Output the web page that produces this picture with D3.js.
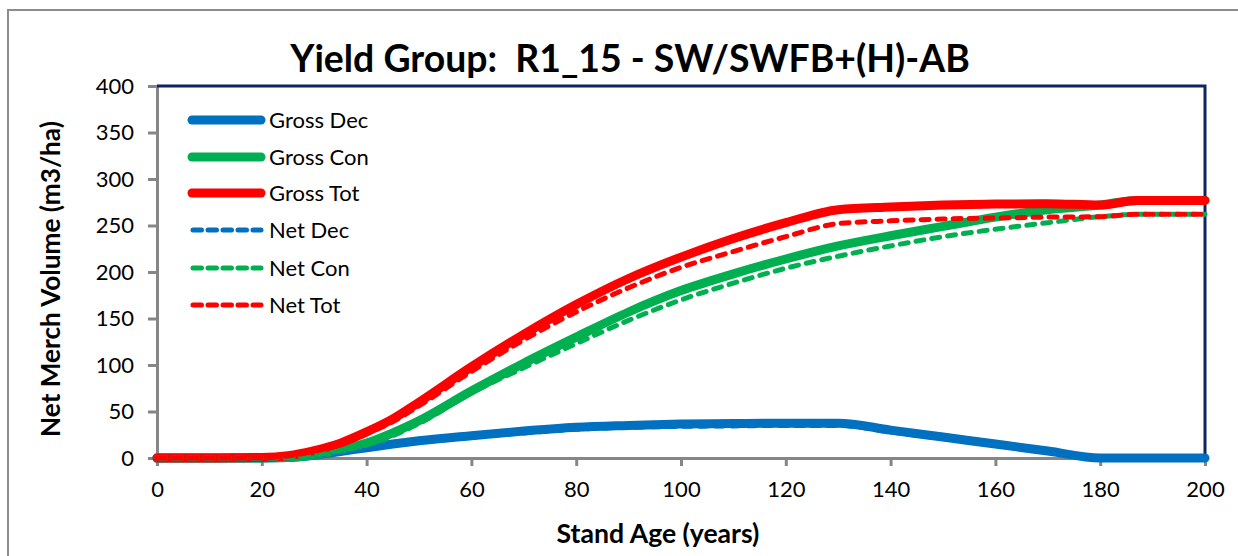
<!DOCTYPE html>
<html><head><meta charset="utf-8">
<script src="https://cdn.jsdelivr.net/npm/d3@7"></script>
<style>body{margin:0;background:#fff}svg{display:block}</style>
</head><body><svg id="c" width="1238" height="556"></svg>
<script>
const ages     = [0,10,20,25,30,35,40,45,50,60,70,80,90,100,110,120,130,140,150,160,170,180,187,190,200];
const grossDec = [0,0,0,0.5,3,7,11,15,18.5,24,29,33,35,36.5,37,37.5,37.5,30,22.5,15,7.5,0,0,0,0];
const grossCon = [0,0,0,0.5,3.5,9,16,27,40,72,102,130,157,180,198,214,228,239,249,259,267,272,277,277,277];
const grossTot = [0,0,0.5,2.5,8,16,28,42,60,98,133,165,193,216,236,253,267,270,272,273,273.5,272,277,277,277];
const netDec   = [0,0,0,0.3,2.5,6.5,10.5,14,17,22.5,27,31,33,34,34.5,35,35,28,21,14,7,0,0,0,0];
const netCon   = [0,0,0,0.3,3,8,14,24,37,70,97,123,148,170,188,204,217,228,238,246,253,259.5,262,262,262];
const netTot   = [0,0,0.3,2.2,7,14.5,26,39,56,93,127,157,183,205,222,238,252,255,257,258,259,259.5,262,262,262];
const seriesNames = ["Gross Dec","Gross Con","Gross Tot","Net Dec","Net Con","Net Tot"];
const xTicks = [0,20,40,60,80,100,120,140,160,180,200];
const yTicks = [0,50,100,150,200,250,300,350,400];
const title = "Yield Group:\u00a0 R1_15 - SW/SWFB+(H)-AB";
const xTitle = "Stand Age (years)";
const yTitle = "Net Merch Volume (m3/ha)";

const values = [grossDec,grossCon,grossTot,netDec,netCon,netTot];
const colors = ["#0070C0","#00B050","#FF0000","#0070C0","#00B050","#FF0000"];
const dashed = [false,false,false,true,true,true];

const svg = d3.select("#c");
const FONT = "Lato, 'Open Sans', sans-serif";
const L=157, R=1205, T=86, B=458;
const x = d3.scaleLinear().domain([0,200]).range([L,R]);
const y = d3.scaleLinear().domain([0,400]).range([B,T]);

// outer frame
svg.append("rect").attr("x",8).attr("y",10).attr("width",1250).attr("height",600)
  .attr("fill","none").attr("stroke","#8c8c8c").attr("stroke-width",2);

function fitText(sel, w){
  const n = sel.node(); const cur = +sel.attr("font-size");
  const len = n.getComputedTextLength();
  sel.attr("font-size", cur*w/len);
}

// title
const t = svg.append("text").attr("x",630).attr("y",72).attr("text-anchor","middle")
  .attr("font-family",FONT).attr("font-weight","bold").attr("font-size",32).attr("fill","#000").text(title);
fitText(t,680);

// axes
const yAxis = svg.append("g").attr("transform",`translate(${L},0)`)
  .call(d3.axisLeft(y).tickValues(yTicks).tickSize(9).tickPadding(14));
const xAxis = svg.append("g").attr("transform",`translate(0,${B})`)
  .call(d3.axisBottom(x).tickValues(xTicks).tickSize(8).tickPadding(14));
[yAxis,xAxis].forEach(g=>{
  g.select(".domain").attr("stroke","#868686").attr("stroke-width",3);
  g.selectAll(".tick line").attr("stroke","#868686").attr("stroke-width",3);
  g.selectAll(".tick text").attr("font-family",FONT).attr("font-size",22).attr("fill","#000");
});
xAxis.selectAll(".tick text").attr("dy","0.75em");
// top / right border
svg.append("path").attr("d",`M${L},${T}H${R}V${B}`).attr("fill","none")
  .attr("stroke","#0D2560").attr("stroke-width",3);

// axis titles
const xt = svg.append("text").attr("x",658).attr("y",543).attr("text-anchor","middle")
  .attr("font-family",FONT).attr("font-weight","bold").attr("font-size",22).text(xTitle);
fitText(xt,203);
const yt = svg.append("text").attr("transform","translate(60,279) rotate(-90)").attr("text-anchor","middle")
  .attr("font-family",FONT).attr("font-weight","bold").attr("font-size",22).text(yTitle);
fitText(yt,316);

// lines
const line = d3.line().x((d,i)=>x(ages[i])).y(d=>y(d)).curve(d3.curveMonotoneX);
values.forEach((v,k)=>{
  const p = svg.append("path").datum(v).attr("d",line).attr("fill","none")
    .attr("stroke",colors[k]).attr("stroke-linecap","round").attr("stroke-linejoin","round")
    .attr("stroke-width",dashed[k]?5:9);
  if(dashed[k]) p.attr("stroke-dasharray","8,8");
});

// legend
const legY = [120,157,193,230,268,305];
seriesNames.forEach((n,k)=>{
  const l = svg.append("line").attr("x1",192).attr("x2",261).attr("y1",legY[k]).attr("y2",legY[k])
    .attr("stroke",colors[k]).attr("stroke-linecap","round").attr("stroke-width",dashed[k]?5:9);
  if(dashed[k]) l.attr("x1",193).attr("stroke-dasharray","8.5,6.5");
  svg.append("text").attr("x",269).attr("y",legY[k]).attr("dy","0.35em")
    .attr("font-family",FONT).attr("font-size",22).attr("fill","#000").text(n);
});
</script></body></html>
